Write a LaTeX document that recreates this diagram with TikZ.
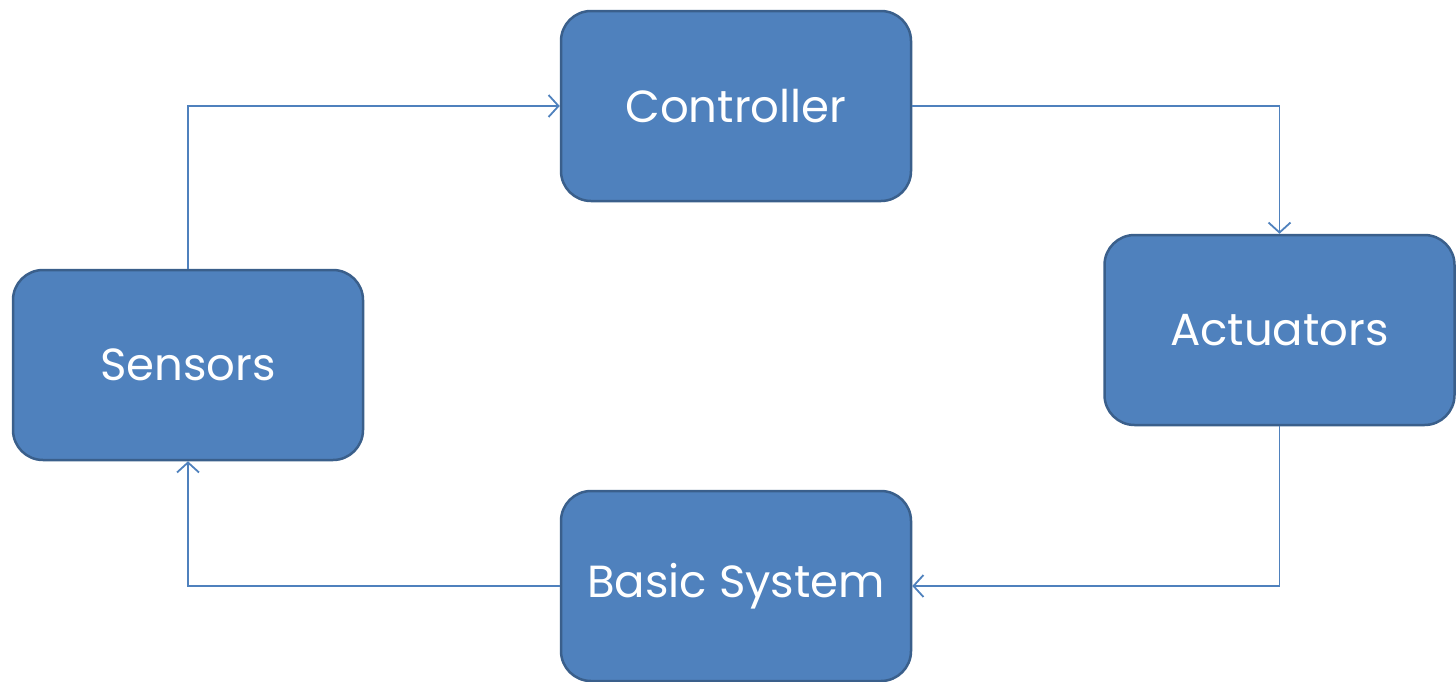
\documentclass[tikz,border=0pt]{standalone}
\usepackage{fontspec}
\setmainfont{Poppins}
\usetikzlibrary{arrows.meta}
\definecolor{boxfill}{HTML}{4F81BD}
\definecolor{boxdraw}{HTML}{3A5F8B}
\newcommand{\lowered}[1]{\raisebox{-3pt}{#1}}
\begin{document}
\begin{tikzpicture}[x=1pt,y=-1pt,
  block/.style={draw=boxdraw,line width=2.5pt,fill=boxfill,rounded corners=30pt,
    minimum width=350pt,minimum height=190pt,inner sep=0pt,text=white,
    font=\fontsize{45}{52}\selectfont},
  conn/.style={draw=boxfill,line width=1.8pt,-{Straight Barb[length=10pt,width=22pt,line width=1.8pt]}}]
\useasboundingbox (0,0) rectangle (1456,681);
\node[block] (ctrl) at (736,106) {\lowered{Controller}};
\node[block] (act) at (1279.5,330) {\lowered{Actuators}};
\node[block] (sens) at (188,365) {\lowered{Sensors}};
\node[block] (sys) at (736,586) {\lowered{Basic System}};
\draw[conn] (sens.north) |- (ctrl.west);
\draw[conn] (ctrl.east) -| (act.north);
\draw[conn] (act.south) |- (sys.east);
\draw[conn] (sys.west) -| (sens.south);
\end{tikzpicture}
\end{document}
